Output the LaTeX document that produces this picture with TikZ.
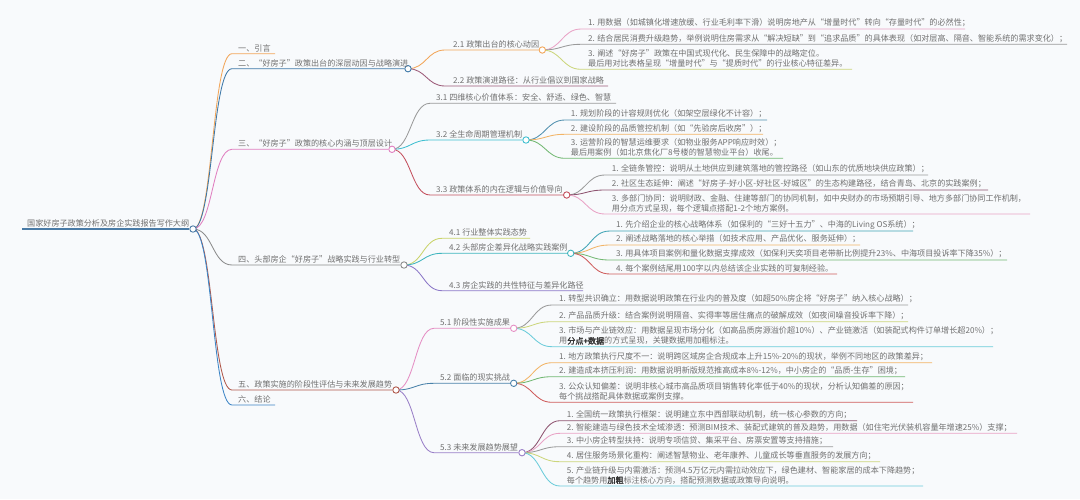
\documentclass[tikz,border=0pt]{standalone}
\usepackage{fontspec}
\newfontfamily\cjk[AutoFakeBold=2]{Noto Sans CJK SC}
\usetikzlibrary{backgrounds}
\definecolor{bg}{HTML}{F8FAFC}
\definecolor{tx}{HTML}{707070}
\definecolor{tb}{HTML}{333333}
\definecolor{cRoot}{HTML}{4A7BA6}
\definecolor{cLa}{HTML}{F2A65A}
\definecolor{cLb}{HTML}{3E78A8}
\definecolor{cLc}{HTML}{E07FC0}
\definecolor{cLd}{HTML}{8C8C8C}
\definecolor{cLe}{HTML}{B0584A}
\definecolor{cLf}{HTML}{3D85C6}
\definecolor{ctwoa}{HTML}{F2A65A}
\definecolor{ctwob}{HTML}{9C5A78}
\definecolor{cthra}{HTML}{9A9A9A}
\definecolor{cthrb}{HTML}{3FBFD0}
\definecolor{cthrc}{HTML}{C4505E}
\definecolor{cfoua}{HTML}{C9D36A}
\definecolor{cfoub}{HTML}{3FB5BE}
\definecolor{cfouc}{HTML}{8C78C8}
\definecolor{cfiva}{HTML}{E58FC4}
\definecolor{cfivb}{HTML}{4A82AA}
\definecolor{cfivc}{HTML}{9A80C8}
\definecolor{pk}{HTML}{E9A3C6}
\definecolor{gy}{HTML}{9A9A9A}
\definecolor{yg}{HTML}{CCD67C}
\definecolor{st}{HTML}{4F8FAE}
\definecolor{orr}{HTML}{F2B466}
\definecolor{gn}{HTML}{72B872}
\definecolor{mv}{HTML}{8E5470}
\definecolor{rd}{HTML}{CF5C5C}
\definecolor{tl}{HTML}{3EA3B5}
\definecolor{cy}{HTML}{6CCCDA}
% #1 colour, #2 parent node, #3 half width, #4 x where the line turns flat, #5 y, #6 end name
\newcommand{\mmedge}[6]{\draw[edge,#1] (#2.center) .. controls ([xshift=#3pt]#2.center) and (#4-#3,#5) .. (#4,#5) -- (#6);}
\begin{document}
\begin{tikzpicture}[x=1pt,y=-1pt,
  txt/.style={anchor=south west,inner sep=0pt,text=tx,font=\cjk\fontsize{8.1}{10}\selectfont,align=left},
  edge/.style={line width=0.85pt},
  hub/.style={circle,minimum size=6.4pt,inner sep=0pt,fill=white,line width=0.9pt}]
\useasboundingbox (0,0) rectangle (1080,499);
\begin{scope}[on background layer]
\fill[bg] (0,0) rectangle (1080,499);
\end{scope}

% hubs
\node[hub,draw=cRoot] (R) at (193,229) {};
\node[hub,draw=cLb] (H2) at (408,68.7) {};
\node[hub,draw=cLc] (H3) at (392,149.3) {};
\node[hub,draw=cLd] (H4) at (404,265) {};
\node[hub,draw=cLe] (H5) at (396,390) {};
\node[hub,draw=ctwoa] (H21) at (542.3,50) {};
\node[hub,draw=cthrb] (H32) at (526,140) {};
\node[hub,draw=cthrc] (H33) at (566.7,195) {};
\node[hub,draw=cfoub] (H42) at (570.7,253.3) {};
\node[hub,draw=cfiva] (H51) at (513.7,328.3) {};
\node[hub,draw=cfivb] (H52) at (513.7,383.3) {};
\node[hub,draw=cfivc] (H53) at (522,452.7) {};

% free ends
\coordinate (R0) at (22,229);
\coordinate (E1) at (275,53.7);
\coordinate (E6) at (275,405);
\coordinate (E22) at (608,86);
\coordinate (E31) at (616,103.3);
\coordinate (E41) at (530,238.3);
\coordinate (E43) at (583,290.7);
\coordinate (E21a) at (965,29);
\coordinate (E21b) at (1067,44.3);
\coordinate (E21c) at (852,69.3);
\coordinate (E32a) at (767,120);
\coordinate (E32b) at (763,134.3);
\coordinate (E32c) at (783,158.3);
\coordinate (E33a) at (928,175);
\coordinate (E33b) at (988,190);
\coordinate (E33c) at (1030,214);
\coordinate (E42a) at (913,231);
\coordinate (E42b) at (860,245);
\coordinate (E42c) at (1007,260);
\coordinate (E42d) at (837,274);
\coordinate (E51a) at (908,305);
\coordinate (E51b) at (908,321.7);
\coordinate (E51c) at (993,346.7);
\coordinate (E52a) at (932,362.7);
\coordinate (E52b) at (905,376.7);
\coordinate (E52c) at (913,402.3);
\coordinate (E53a) at (857,420.7);
\coordinate (E53b) at (1017,433.3);
\coordinate (E53c) at (833,446.7);
\coordinate (E53d) at (880,461.7);
\coordinate (E53e) at (923,486);

\begin{scope}[on background layer]
\draw[edge,cRoot,line width=1.2pt] (R0) -- (R);
\mmedge{cLa}{R}{20}{232}{53.7}{E1}
\mmedge{cLb}{R}{20}{232}{68.7}{H2}
\mmedge{cLc}{R}{20}{232}{149.3}{H3}
\mmedge{cLd}{R}{20}{232}{265}{H4}
\mmedge{cLe}{R}{20}{232}{390}{H5}
\mmedge{cLf}{R}{20}{232}{405}{E6}
\mmedge{ctwoa}{H2}{18}{445}{50}{H21}
\mmedge{ctwob}{H2}{18}{445}{86}{E22}
\mmedge{cthra}{H3}{19}{430}{103.3}{E31}
\mmedge{cthrb}{H3}{19}{430}{140}{H32}
\mmedge{cthrc}{H3}{19}{430}{195}{H33}
\mmedge{cfoua}{H4}{19}{442}{238.3}{E41}
\mmedge{cfoub}{H4}{19}{442}{253.3}{H42}
\mmedge{cfouc}{H4}{19}{442}{290.7}{E43}
\mmedge{cfiva}{H5}{19}{434}{328.3}{H51}
\mmedge{cfivb}{H5}{19}{434}{383.3}{H52}
\mmedge{cfivc}{H5}{19}{434}{452.7}{H53}
\mmedge{pk}{H21}{19}{581}{29}{E21a}
\mmedge{gy}{H21}{19}{581}{44.3}{E21b}
\mmedge{yg}{H21}{19}{581}{69.3}{E21c}
\mmedge{st}{H32}{19}{565}{120}{E32a}
\mmedge{orr}{H32}{19}{565}{134.3}{E32b}
\mmedge{gn}{H32}{19}{565}{158.3}{E32c}
\mmedge{gy}{H33}{19}{605}{175}{E33a}
\mmedge{mv}{H33}{19}{605}{190}{E33b}
\mmedge{pk}{H33}{19}{605}{214}{E33c}
\mmedge{tl}{H42}{20}{610}{231}{E42a}
\mmedge{orr}{H42}{20}{610}{245}{E42b}
\mmedge{gn}{H42}{20}{610}{260}{E42c}
\mmedge{rd}{H42}{20}{610}{274}{E42d}
\mmedge{gy}{H51}{19}{552}{305}{E51a}
\mmedge{yg}{H51}{19}{552}{321.7}{E51b}
\mmedge{cy}{H51}{19}{552}{346.7}{E51c}
\mmedge{orr}{H52}{19}{552}{362.7}{E52a}
\mmedge{gn}{H52}{19}{552}{376.7}{E52b}
\mmedge{rd}{H52}{19}{552}{402.3}{E52c}
\mmedge{mv}{H53}{19}{560}{420.7}{E53a}
\mmedge{pk}{H53}{19}{560}{433.3}{E53b}
\mmedge{gy}{H53}{19}{560}{446.7}{E53c}
\mmedge{yg}{H53}{19}{560}{461.7}{E53d}
\mmedge{cy}{H53}{19}{560}{486}{E53e}
\end{scope}

% texts
\node[txt] (tR) at (27,227.3) {国家好房子政策分析及房企实践报告写作大纲};
\node[txt] (t1) at (238,52) {一、引言};
\node[txt] (t2) at (238,67) {二、“好房子”政策出台的深层动因与战略演进};
\node[txt] (t3) at (238,147.6) {三、“好房子”政策的核心内涵与顶层设计};
\node[txt] (t4) at (238,263.3) {四、头部房企“好房子”战略实践与行业转型};
\node[txt] (t5) at (238,388.3) {五、政策实施的阶段性评估与未来发展趋势};
\node[txt] (t6) at (238,403.3) {六、结论};

\node[txt] (t21) at (453,48.3) {2.1 政策出台的核心动因};
\node[txt] (t22) at (453,84.3) {2.2 政策演进路径：从行业倡议到国家战略};
\node[txt] (t31) at (436,101.6) {3.1 四维核心价值体系：安全、舒适、绿色、智慧};
\node[txt] (t32) at (436,138.3) {3.2 全生命周期管理机制};
\node[txt] (t33) at (436,193.3) {3.3 政策体系的内在逻辑与价值导向};
\node[txt] (t41) at (449,236.6) {4.1 行业整体实践态势};
\node[txt] (t42) at (449,251.6) {4.2 头部房企差异化战略实践案例};
\node[txt] (t43) at (449,289) {4.3 房企实践的共性特征与差异化路径};
\node[txt] (t51) at (440,326.6) {5.1 阶段性实施成果};
\node[txt] (t52) at (440,381.6) {5.2 面临的现实挑战};
\node[txt] (t53) at (440,451) {5.3 未来发展趋势展望};

\node[txt] (t21a) at (588,27.3) {1. 用数据（如城镇化增速放缓、行业毛利率下滑）说明房地产从“增量时代”转向“存量时代”的必然性；};
\node[txt] (t21b) at (588,42.6) {2. 结合居民消费升级趋势，举例说明住房需求从“解决短缺”到“追求品质”的具体表现（如对层高、隔音、智能系统的需求变化）；};
\node[txt] (t21c) at (588,67.6) {3. 阐述“好房子”政策在中国式现代化、民生保障中的战略定位。\\最后用对比表格呈现“增量时代”与“提质时代”的行业核心特征差异。};

\node[txt] (t32a) at (570.7,118.3) {1. 规划阶段的计容规则优化（如架空层绿化不计容）；};
\node[txt] (t32b) at (570.7,132.6) {2. 建设阶段的品质管控机制（如“先验房后收房”）；};
\node[txt] (t32c) at (570.7,156.6) {3. 运营阶段的智慧运维要求（如物业服务APP响应时效）；\\最后用案例（如北京焦化厂8号楼的智慧物业平台）收尾。};

\node[txt] (t33a) at (611.7,173.3) {1. 全链条管控：说明从土地供应到建筑落地的管控路径（如山东的优质地块供应政策）；};
\node[txt] (t33b) at (611.7,188.3) {2. 社区生态延伸：阐述“好房子-好小区-好社区-好城区”的生态构建路径，结合青岛、北京的实践案例；};
\node[txt] (t33c) at (611.7,212.3) {3. 多部门协同：说明财政、金融、住建等部门的协同机制，如中央财办的市场预期引导、地方多部门协同工作机制，\\用分点方式呈现，每个逻辑点搭配1-2个地方案例。};

\node[txt] (t42a) at (616,229.3) {1. 先介绍企业的核心战略体系（如保利的“三好十五力”、中海的Living OS系统）；};
\node[txt] (t42b) at (616,243.3) {2. 阐述战略落地的核心举措（如技术应用、产品优化、服务延伸）；};
\node[txt] (t42c) at (616,258.3) {3. 用具体项目案例和量化数据支撑成效（如保利天奕项目老带新比例提升23\%、中海项目投诉率下降35\%）；};
\node[txt] (t42d) at (616,272.3) {4. 每个案例结尾用100字以内总结该企业实践的可复制经验。};

\node[txt] (t51a) at (559,303.3) {1. 转型共识确立：用数据说明政策在行业内的普及度（如超50\%房企将“好房子”纳入核心战略）；};
\node[txt] (t51b) at (559,320) {2. 产品品质升级：结合案例说明隔音、实得率等居住痛点的破解成效（如夜间噪音投诉率下降）；};
\node[txt] (t51c) at (559,345) {3. 市场与产业链效应：用数据呈现市场分化（如高品质房源溢价超10\%）、产业链激活（如装配式构件订单增长超20\%）；\\用{\color{tb}\bfseries 分点+数据}的方式呈现，关键数据用加粗标注。};

\node[txt] (t52a) at (559,361) {1. 地方政策执行尺度不一：说明跨区域房企合规成本上升15\%-20\%的现状，举例不同地区的政策差异；};
\node[txt] (t52b) at (559,375) {2. 建造成本挤压利润：用数据说明新版规范推高成本8\%-12\%，中小房企的“品质-生存”困境；};
\node[txt] (t52c) at (559,400.6) {3. 公众认知偏差：说明非核心城市高品质项目销售转化率低于40\%的现状，分析认知偏差的原因；\\每个挑战搭配具体数据或案例支撑。};

\node[txt] (t53a) at (566.7,419) {1. 全国统一政策执行框架：说明建立东中西部联动机制，统一核心参数的方向；};
\node[txt] (t53b) at (566.7,431.6) {2. 智能建造与绿色技术全域渗透：预测BIM技术、装配式建筑的普及趋势，用数据（如住宅光伏装机容量年增速25\%）支撑；};
\node[txt] (t53c) at (566.7,445) {3. 中小房企转型扶持：说明专项信贷、集采平台、房票安置等支持措施；};
\node[txt] (t53d) at (566.7,460) {4. 居住服务场景化重构：阐述智慧物业、老年康养、儿童成长等垂直服务的发展方向；};
\node[txt] (t53e) at (566.7,484.3) {5. 产业链升级与内需激活：预测4.5万亿元内需拉动效应下，绿色建材、智能家居的成本下降趋势；\\每个趋势用{\color{tb}\bfseries 加粗}标注核心方向，搭配预测数据或政策导向说明。};
\end{tikzpicture}
\end{document}
